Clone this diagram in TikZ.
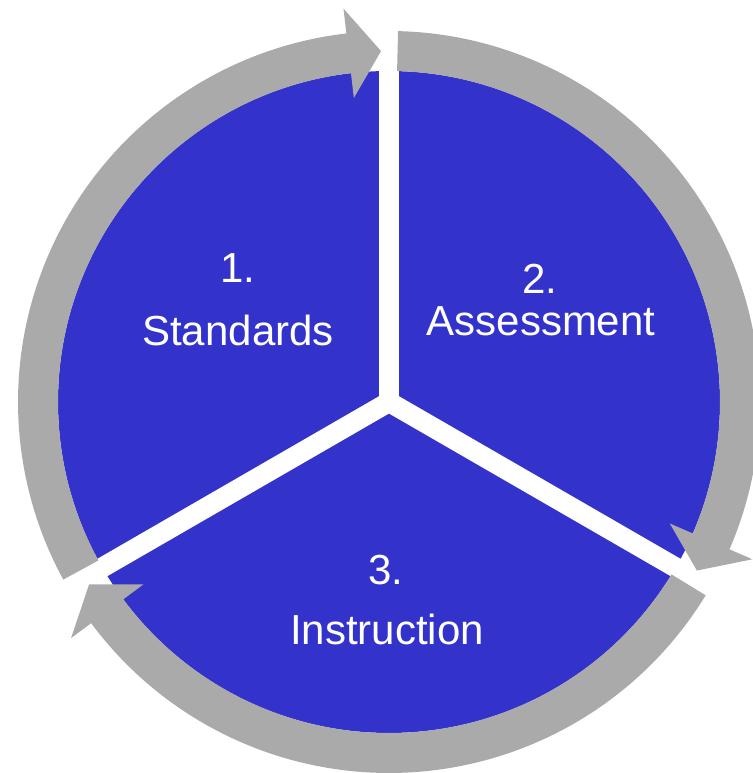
\documentclass[tikz,border=0pt]{standalone}
\usepackage{fontspec}
\setmainfont{Liberation Sans}
\definecolor{cycleblue}{RGB}{51,51,204}
\definecolor{cyclegray}{RGB}{170,170,170}

\begin{document}
\begin{tikzpicture}[x=1pt, y=1pt, every node/.style={text=white, inner sep=0pt, anchor=base, font=\fontsize{42}{50}\selectfont}]
    \useasboundingbox (0,0) rectangle (752,773);
    \coordinate (center) at (389,371);

    % Blue disk, split by white gaps
    \fill[cycleblue] (center) circle[radius=331];
    \fill[white] (center) circle[radius=10];
    \draw[white, line width=20] (center) -- ++(90:340);
    \draw[white, line width=20] (center) -- ++(-30:340);
    \draw[white, line width=20] (center) -- ++(210:340);

    % Gray arrows round the disk
    \begin{scope}[shift={(center)}]
        \fill[cyclegray] (208.6:371) arc[start angle=208.6, end angle=96.6, radius=371]
            -- (96.6:396) -- (91.3:351) -- (96.6:306) -- (96.6:331)
            arc[start angle=96.6, end angle=208.6, radius=331] -- cycle;
        \fill[cyclegray] (88.6:371) arc[start angle=88.6, end angle=-23.4, radius=371]
            -- (-23.4:396) -- (-28.7:351) -- (-23.4:306) -- (-23.4:331)
            arc[start angle=-23.4, end angle=88.6, radius=331] -- cycle;
        \fill[cyclegray] (-31.4:371) arc[start angle=-31.4, end angle=-143.4, radius=371]
            -- (-143.4:396) -- (-148.7:351) -- (-143.4:306) -- (-143.4:331)
            arc[start angle=-143.4, end angle=-31.4, radius=331] -- cycle;
    \end{scope}

    % Labels
    \node (num-1) at (238,490) {1.};
    \node (label-1) at (238,427) {Standards};
    \node (num-2) at (540,479) {2.};
    \node (label-2) at (541,437) {Assessment};
    \node (num-3) at (386,188) {3.};
    \node (label-3) at (387,128) {Instruction};
\end{tikzpicture}
\end{document}
